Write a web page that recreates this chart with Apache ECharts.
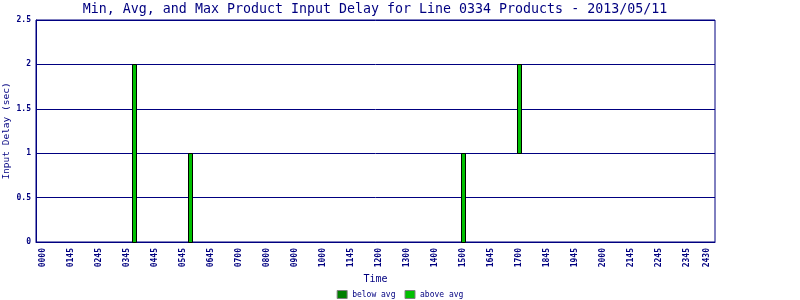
<!DOCTYPE html>
<html>
<head>
<meta charset="utf-8">
<script src="https://cdn.jsdelivr.net/npm/echarts@6/dist/echarts.min.js"></script>
<style>html,body{margin:0;padding:0;background:#fff}#c{width:800px;height:300px}</style>
</head>
<body>
<div id="c"></div>
<script>
var tickLabels = ['0000','0145','0245','0345','0445','0545','0645','0700','0800','0900','1000','1145','1200','1300','1400','1500','1645','1700','1845','1945','2000','2145','2245','2345','2430'];
var tickValues = [0.25,1.25,2.25,3.25,4.25,5.25,6.25,7.25,8.25,9.25,10.25,11.25,12.25,13.25,14.25,15.25,16.25,17.25,18.25,19.25,20.25,21.25,22.25,23.25,23.96];
var barTimes = [3.52, 5.52, 15.27, 17.27];
var minDelay = [0, 0, 0, 1];
var avgDelay = [0, 0, 0, 1];
var maxDelay = [2, 1, 1, 2];

var navy = '#000080';
var mono = 'DejaVu Sans Mono';

var belowData = barTimes.map(function (t, i) { return [t, minDelay[i], avgDelay[i]]; });
var aboveData = barTimes.map(function (t, i) { return [t, avgDelay[i], maxDelay[i]]; });

function makeRender(color) {
  return function (params, api) {
    var x = api.value(0), lo = api.value(1), hi = api.value(2);
    if (hi <= lo) return null;
    var p0 = api.coord([x, lo]);
    var p1 = api.coord([x, hi]);
    var w = 5;
    return {
      type: 'rect',
      shape: {x: Math.round(p0[0] - w / 2) + 0.5, y: Math.round(p1[1]) + 0.5, width: w - 1, height: Math.round(p0[1]) - Math.round(p1[1])},
      style: {fill: color, stroke: '#000', lineWidth: 1}
    };
  };
}

var chart = echarts.init(document.getElementById('c'), null, {renderer: 'canvas'});
chart.setOption({
  animation: false,
  backgroundColor: '#fff',
  title: {
    text: 'Min, Avg, and Max Product Input Delay for Line 0334 Products - 2013/05/11',
    left: 370, top: -3, textAlign: 'center',
    textStyle: {fontFamily: mono, fontSize: 13.3, fontWeight: 'normal', color: navy, lineHeight: 16}
  },
  legend: {
    top: 290, left: 'center',
    data: ['below avg', 'above avg'],
    icon: 'rect', itemWidth: 10, itemHeight: 8, itemGap: 9, padding: 0,
    itemStyle: {borderColor: '#808080', borderWidth: 1},
    textStyle: {fontFamily: mono, fontSize: 8, color: navy}
  },
  grid: {left: 36, right: 85, top: 20, bottom: 58, show: true, borderColor: navy, borderWidth: 1,
         backgroundColor: 'transparent', containLabel: false, outerBoundsMode: 'none'},
  xAxis: {
    type: 'value', min: 0, max: 24.25,
    name: 'Time', nameLocation: 'middle', nameGap: 32, nameMoveOverlap: false,
    nameTextStyle: {fontFamily: mono, fontSize: 10, color: navy},
    axisLine: {show: true, lineStyle: {color: navy, width: 1}},
    axisTick: {show: false},
    splitLine: {show: false},
    axisLabel: {
      customValues: tickValues,
      rotate: 90, margin: 6,
      fontFamily: mono, fontSize: 8, fontWeight: 'bold', color: navy,
      formatter: function (v) { var i = tickValues.indexOf(v); return i >= 0 ? tickLabels[i] : ''; }
    }
  },
  yAxis: {
    type: 'value', min: 0, max: 2.5, interval: 0.5,
    name: 'Input Delay (sec)', nameLocation: 'middle', nameGap: 24, nameMoveOverlap: false,
    nameTextStyle: {fontFamily: mono, fontSize: 9.5, color: navy},
    axisLine: {show: true, lineStyle: {color: navy, width: 1}},
    axisTick: {show: false},
    splitLine: {show: true, lineStyle: {color: navy, width: 1}},
    axisLabel: {
      margin: 5, fontFamily: mono, fontSize: 8, fontWeight: 'bold', color: navy,
      formatter: function (v) { return String(v); }
    }
  },
  series: [
    {name: 'below avg', type: 'custom', renderItem: makeRender('#008000'),
     itemStyle: {color: '#008000'}, encode: {x: 0, y: [1, 2]}, data: belowData},
    {name: 'above avg', type: 'custom', renderItem: makeRender('#00c000'),
     itemStyle: {color: '#00c000'}, encode: {x: 0, y: [1, 2]}, data: aboveData}
  ]
});
</script>
</body>
</html>
